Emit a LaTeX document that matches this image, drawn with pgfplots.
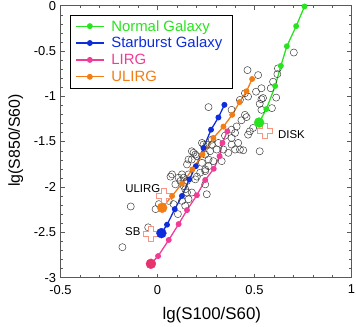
\documentclass[border=0pt]{standalone}
\usepackage{pgfplots}
\pgfplotsset{compat=1.18}
\usepackage{fontspec}
\setmainfont{Liberation Sans}

\definecolor{cgreen}{RGB}{40,228,30}
\definecolor{cblue}{RGB}{15,45,220}
\definecolor{cpink}{RGB}{240,60,150}
\definecolor{corange}{RGB}{242,125,20}
\definecolor{cpinkbig}{RGB}{232,50,110}
\definecolor{ccross}{RGB}{246,150,130}

% hollow plus sign used for the DISK / ULIRG / SB templates
\pgfdeclareplotmark{hplus}{%
  \pgfpathmoveto{\pgfqpoint{-0.33\pgfplotmarksize}{\pgfplotmarksize}}%
  \pgfpathlineto{\pgfqpoint{0.33\pgfplotmarksize}{\pgfplotmarksize}}%
  \pgfpathlineto{\pgfqpoint{0.33\pgfplotmarksize}{0.33\pgfplotmarksize}}%
  \pgfpathlineto{\pgfqpoint{\pgfplotmarksize}{0.33\pgfplotmarksize}}%
  \pgfpathlineto{\pgfqpoint{\pgfplotmarksize}{-0.33\pgfplotmarksize}}%
  \pgfpathlineto{\pgfqpoint{0.33\pgfplotmarksize}{-0.33\pgfplotmarksize}}%
  \pgfpathlineto{\pgfqpoint{0.33\pgfplotmarksize}{-\pgfplotmarksize}}%
  \pgfpathlineto{\pgfqpoint{-0.33\pgfplotmarksize}{-\pgfplotmarksize}}%
  \pgfpathlineto{\pgfqpoint{-0.33\pgfplotmarksize}{-0.33\pgfplotmarksize}}%
  \pgfpathlineto{\pgfqpoint{-\pgfplotmarksize}{-0.33\pgfplotmarksize}}%
  \pgfpathlineto{\pgfqpoint{-\pgfplotmarksize}{0.33\pgfplotmarksize}}%
  \pgfpathlineto{\pgfqpoint{-0.33\pgfplotmarksize}{0.33\pgfplotmarksize}}%
  \pgfpathclose
  \pgfusepathqfillstroke
}

% legend entry: fixed width and height so the box is the reference's size
\newcommand{\legtext}[2]{\makebox[115pt][l]{\rule[-4.5pt]{0pt}{16pt}\fontsize{15}{17}\selectfont\textcolor{#1}{#2}}}

\pgfplotsset{
    track/.style={line width=1.3pt, mark=*, mark size=2.3pt,
        legend image code/.code={%
            \draw[mark repeat=2, mark phase=2] plot coordinates {(0pt,0pt)(14pt,0pt)(28pt,0pt)};}},
}

\pgfplotstableread{
x y
0.703 -0.518
0.464 -0.712
0.519 -0.767
0.621 -0.693
0.618 -0.756
0.596 -0.840
0.536 -0.912
0.584 -0.912
0.612 -1.015
0.451 -0.967
0.467 -1.004
0.508 -0.950
0.544 -1.020
0.536 -1.033
0.527 -1.084
0.536 -1.150
0.590 -1.131
0.425 -1.040
0.263 -1.120
0.382 -1.150
0.459 -1.230
0.433 -1.265
0.451 -1.205
0.493 -1.350
0.467 -1.424
0.476 -1.387
0.382 -1.369
0.348 -1.435
0.408 -1.333
0.400 -1.405
0.382 -1.460
0.416 -1.515
0.382 -1.533
0.400 -1.588
0.425 -1.588
0.442 -1.596
0.527 -1.607
0.365 -1.624
0.340 -1.588
0.314 -1.515
0.305 -1.588
0.331 -1.716
0.280 -1.533
0.280 -1.479
0.237 -1.533
0.271 -1.607
0.254 -1.533
0.229 -1.515
0.246 -1.643
0.263 -1.698
0.288 -1.716
0.229 -1.734
0.263 -1.771
0.246 -1.826
0.246 -1.807
0.203 -1.661
0.186 -1.624
0.177 -1.607
0.195 -1.643
0.177 -1.698
0.160 -1.698
0.152 -1.752
0.220 -1.843
0.203 -1.887
0.195 -1.917
0.160 -1.862
0.126 -1.862
0.109 -1.898
0.075 -1.862
0.067 -1.887
0.135 -1.898
0.118 -1.935
0.152 -1.935
0.135 -1.990
0.092 -1.972
0.246 -1.972
0.143 -2.026
0.152 -2.062
0.177 -2.062
0.160 -2.136
0.126 -2.154
0.254 -2.081
0.058 -2.154
0.007 -2.190
-0.010 -2.245
0.083 -2.190
0.143 -2.209
0.105 -2.300
-0.138 -2.216
-0.048 -2.446
-0.181 -2.665
}\circles

\begin{document}
\begin{tikzpicture}
\begin{axis}[
    scale only axis,
    width=293pt, height=274pt,
    xmin=-0.5, xmax=1,
    ymin=-3, ymax=0,
    xtick={-0.5,0,0.5,1},
    ytick={-3,-2.5,-2,-1.5,-1,-0.5,0},
    minor tick num=4,
    axis line style={black!65},
    tick style={black!65},
    major tick length=4pt,
    minor tick length=2.5pt,
    /pgf/number format/assume math mode=true,
    tick label style={font=\fontsize{13}{15}\selectfont, inner sep=1pt},
    xticklabel style={yshift=-6.3pt},
    yticklabel style={xshift=-3.3pt},
    xlabel={lg(S100/S60)},
    ylabel={lg(S850/S60)},
    xlabel style={font=\fontsize{17}{19}\selectfont, at={(rel axis cs:0.52,-0.137)}, anchor=center},
    ylabel style={font=\fontsize{16}{18}\selectfont, at={(rel axis cs:-0.154,0.504)}, anchor=center},
    legend style={at={(rel axis cs:0.033,0.967)}, anchor=north west,
        draw=black, fill=white, inner xsep=5pt, inner ysep=3pt,
        row sep=0pt, column sep=5pt,
        cells={anchor=west, inner sep=0pt}},
]

% observed galaxies
\addplot[only marks, mark=o, mark size=3.6pt, black!75, line width=0.5pt, forget plot]
    table {\circles};

% templates
\addplot[only marks, mark=hplus, mark size=7.5pt, mark options={draw=ccross, fill=white, line width=0.8pt}, forget plot]
    coordinates {(0.553,-1.387) (0.032,-2.100) (-0.036,-2.520)};

\addplot[cgreen, track]
    coordinates {(0.524,-1.290)(0.561,-1.142)(0.607,-0.887)(0.636,-0.665)(0.667,-0.449)(0.715,-0.227)(0.758,-0.010)};
\addlegendentry{\legtext{cgreen}{Normal Galaxy}}

\addplot[cblue, track]
    coordinates {(0.020,-2.510)(0.049,-2.417)(0.089,-2.245)(0.126,-2.100)(0.164,-1.917)(0.198,-1.771)(0.237,-1.570)(0.276,-1.369)(0.314,-1.234)(0.345,-1.095)};
\addlegendentry{\legtext{cblue}{Starburst Galaxy}}

\addplot[cpink, track]
    coordinates {(-0.034,-2.848)(0.003,-2.763)(0.058,-2.585)(0.109,-2.410)(0.152,-2.256)(0.203,-2.092)(0.246,-1.924)(0.290,-1.800)(0.320,-1.661)(0.335,-1.515)(0.360,-1.387)};
\addlegendentry{\legtext{cpink}{LIRG}}

\addplot[corange, track]
    coordinates {(0.024,-2.230)(0.075,-2.100)(0.126,-1.964)(0.180,-1.807)(0.232,-1.643)(0.288,-1.460)(0.340,-1.335)(0.385,-1.205)(0.423,-1.065)(0.459,-0.945)(0.488,-0.810)};
\addlegendentry{\legtext{corange}{ULIRG}}

% starting points
\addplot[only marks, mark=*, mark size=5pt, cgreen, forget plot] coordinates {(0.524,-1.290)};
\addplot[only marks, mark=*, mark size=5pt, cblue, forget plot] coordinates {(0.020,-2.510)};
\addplot[only marks, mark=*, mark size=5pt, corange, forget plot] coordinates {(0.024,-2.230)};
\addplot[only marks, mark=*, mark size=5pt, cpinkbig, forget plot] coordinates {(-0.034,-2.848)};

\node[anchor=west, inner sep=0pt, font=\fontsize{11.5}{13}\selectfont] at (axis cs:0.621,-1.424) {DISK};
\node[anchor=east, inner sep=0pt, font=\fontsize{11.5}{13}\selectfont] at (axis cs:0.015,-2.015) {ULIRG};
\node[anchor=east, inner sep=0pt, font=\fontsize{11.5}{13}\selectfont] at (axis cs:-0.087,-2.494) {SB};
\end{axis}
% fix the frame to the reference's margins
\path (current axis.south west) ++(-61pt,-48pt);
\path (current axis.north east) ++(2pt,5pt);
\end{tikzpicture}
\end{document}
